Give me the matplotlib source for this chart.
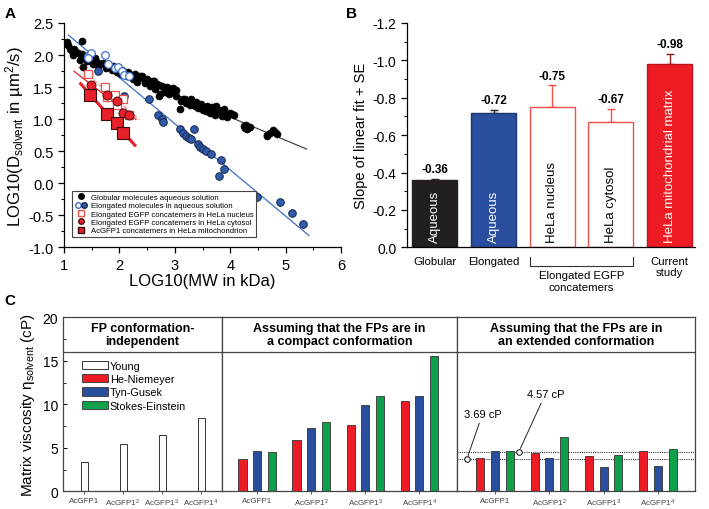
import numpy as np
import matplotlib.pyplot as plt
from matplotlib.legend_handler import HandlerTuple
from matplotlib.lines import Line2D
from matplotlib.patches import Patch
from matplotlib.ticker import MultipleLocator, FormatStrFormatter

plt.rcParams['font.family'] = ['Liberation Sans', 'DejaVu Sans']
plt.rcParams['mathtext.fontset'] = 'custom'
plt.rcParams['mathtext.rm'] = 'Liberation Sans'
plt.rcParams['mathtext.it'] = 'Liberation Sans:italic'
plt.rcParams['axes.linewidth'] = 0.9

# ---- panel A data: log10(MW) vs log10(D) ----
glob_x = [1.03, 1.05, 1.08, 1.11, 1.14, 1.16, 1.18, 1.22, 1.26, 1.28, 1.32, 1.32, 1.35, 1.38,
          1.42, 1.44, 1.50, 1.52, 1.56, 1.59, 1.62, 1.65, 1.71, 1.75, 1.77, 1.83, 1.86, 1.89,
          1.92, 1.95, 1.98, 2.02, 2.04, 2.10, 2.13, 2.16, 2.22, 2.25, 2.28, 2.31, 2.34, 2.37,
          2.40, 2.44, 2.47, 2.49, 2.54, 2.56, 2.58, 2.61, 2.62, 2.64, 2.67, 2.72, 2.72, 2.73,
          2.76, 2.80, 2.82, 2.85, 2.88, 2.90, 2.93, 2.95, 2.97, 3.00, 3.03, 3.03, 3.09, 3.12,
          3.14, 3.18, 3.21, 3.24, 3.27, 3.29, 3.32, 3.36, 3.39, 3.42, 3.44, 3.48, 3.50, 3.53,
          3.56, 3.58, 3.62, 3.64, 3.67, 3.70, 3.72, 3.74, 3.77, 3.79, 3.83, 3.86, 3.88, 3.92,
          3.95, 4.00, 4.03, 4.06, 4.24, 4.27, 4.29, 4.31, 4.35, 4.66, 4.67, 4.72, 4.77, 4.81,
          4.84]
glob_y = [2.17, 2.20, 2.15, 2.09, 2.07, 2.00, 2.09, 2.05, 2.03, 1.93, 2.22, 2.01, 1.81, 1.98,
          1.90, 1.94, 1.91, 1.86, 1.95, 1.89, 1.83, 1.86, 1.87, 1.79, 1.83, 1.81, 1.76, 1.83,
          1.77, 1.73, 1.81, 1.70, 1.76, 1.73, 1.67, 1.74, 1.69, 1.62, 1.70, 1.58, 1.65, 1.68,
          1.67, 1.62, 1.56, 1.63, 1.60, 1.52, 1.57, 1.60, 1.60, 1.47, 1.55, 1.53, 1.36, 1.39,
          1.51, 1.48, 1.42, 1.50, 1.44, 1.39, 1.47, 1.44, 1.48, 1.43, 1.46, 1.36, 1.16, 1.28,
          1.31, 1.32, 1.25, 1.29, 1.22, 1.31, 1.25, 1.20, 1.26, 1.17, 1.22, 1.23, 1.14, 1.18,
          1.12, 1.21, 1.16, 1.10, 1.19, 1.13, 1.07, 1.21, 1.12, 1.15, 1.10, 1.05, 1.16, 1.08,
          1.03, 1.09, 1.08, 1.06, 0.89, 0.86, 0.91, 0.84, 0.87, 0.75, 0.74, 0.78, 0.83, 0.80,
          0.77]
elong_open_x = [1.43, 1.49, 1.43, 1.74, 1.79, 1.92, 1.98, 2.05, 2.08, 2.18]
elong_open_y = [1.99, 2.03, 1.95, 2.00, 1.86, 1.79, 1.81, 1.75, 1.69, 1.67]
elong_x = [1.62, 2.09, 2.54, 2.70, 2.76, 2.78, 3.10, 3.15, 3.20, 3.26, 3.29, 3.35, 3.41, 3.45,
           3.50, 3.56, 3.65, 3.84, 3.89, 3.79, 4.49, 4.90, 5.11, 5.31]
elong_y = [1.75, 1.36, 1.31, 1.07, 1.01, 0.95, 0.85, 0.79, 0.74, 0.70, 0.69, 0.85, 0.62, 0.57,
           0.54, 0.50, 0.46, 0.37, 0.22, 0.12, -0.21, -0.30, -0.47, -0.64]
nuc_x = [1.44, 1.74, 1.78, 1.92, 1.96, 2.06, 2.18]
nuc_y = [1.71, 1.50, 1.34, 1.38, 1.22, 1.32, 1.06]
cyt_x = [1.48, 1.77, 1.96, 2.07, 2.18]
cyt_y = [1.53, 1.37, 1.28, 1.10, 1.07]
mito_x = [1.47, 1.77, 1.95, 2.07]
mito_y = [1.38, 1.08, 0.94, 0.79]

# ---- panel B data: slopes ----
slope_groups = ['Globular', 'Elongated', 'nucleus', 'cytosol', 'Current']
slopes = [-0.36, -0.72, -0.75, -0.67, -0.98]
slope_se = [0.007, 0.016, 0.116, 0.071, 0.054]
bar_text = ['Aqueous', 'Aqueous', 'HeLa nucleus', 'HeLa cytosol', 'HeLa mitochondrial matrix']

# ---- panel C data: matrix viscosity (cP) ----
constructs = ['AcGFP1', 'AcGFP1$^2$', 'AcGFP1$^3$', 'AcGFP1$^4$']
young = [3.33, 5.44, 6.47, 8.39]
compact_hn = [3.71, 5.93, 7.59, 10.38]
compact_tg = [4.63, 7.28, 9.95, 10.99]
compact_se = [4.55, 7.97, 10.99, 15.59]
ext_hn = [3.79, 4.37, 4.06, 4.63]
ext_tg = [4.67, 3.86, 2.79, 2.87]
ext_se = [4.60, 6.20, 4.21, 4.86]
ref_lo, ref_hi = 3.69, 4.57

RED = '#ED1C24'
BLUE = '#2A4E9E'
GREEN = '#0DA04A'
DARK = '#333333'

fig = plt.figure(figsize=(7.09, 5.10), dpi=100)

# =============== A ===============
axA = fig.add_axes([0.0903, 0.513, 0.3907, 0.44])
axA.scatter(glob_x, glob_y, s=26, c='black', edgecolors='black', lw=0.4, zorder=3)
axA.scatter(elong_x, elong_y, s=30, c='#2F5BAA', edgecolors='#14254d', lw=0.7, zorder=3)
axA.scatter(elong_open_x, elong_open_y, s=30, c='white', edgecolors='#3D6FC8', lw=0.9, zorder=3)
axA.scatter(nuc_x, nuc_y, s=36, marker='s', c='white', edgecolors='#F0504A', lw=0.9, zorder=4)
axA.scatter(cyt_x, cyt_y, s=42, c='#E8202A', edgecolors='#4a1010', lw=0.7, zorder=5)
axA.scatter(mito_x, mito_y, s=66, marker='s', c='#E8202A', edgecolors='#3a0c0c', lw=0.8, zorder=5)

# fit lines: slope from panel B, passing through centroid of points
fits = [
    (glob_x, glob_y, slopes[0], (1.1, 5.38), '#333333', 0.8, '-'),
    (elong_x + elong_open_x, elong_y + elong_open_y, slopes[1], (1.08, 5.42), '#3D6FC8', 0.9, '-'),
    (nuc_x, nuc_y, slopes[2], (1.26, 2.36), '#F58A84', 0.9, '--'),
    (cyt_x, cyt_y, slopes[3], (1.18, 2.3), '#E8202A', 0.9, '-'),
    (mito_x, mito_y, slopes[4], (1.3, 2.28), '#E8202A', 2.2, '-'),
]
for fx, fy, s, (x0, x1), col, lw, ls in fits:
    b = np.mean(fy) - s * np.mean(fx)
    xx = np.array([x0, x1])
    axA.plot(xx, s * xx + b, color=col, lw=lw, ls=ls, zorder=2)

axA.set_xlim(1, 6)
axA.set_ylim(-1.0, 2.5)
axA.xaxis.set_major_locator(MultipleLocator(1))
axA.xaxis.set_minor_locator(MultipleLocator(0.5))
axA.yaxis.set_major_locator(MultipleLocator(0.5))
axA.yaxis.set_minor_locator(MultipleLocator(0.25))
axA.yaxis.set_major_formatter(FormatStrFormatter('%.1f'))
axA.spines['top'].set_visible(False)
axA.spines['right'].set_visible(False)
axA.tick_params(which='major', length=4, width=0.9, labelsize=10.5)
axA.tick_params(which='minor', length=2.5, width=0.8)
axA.set_xlabel('LOG10(MW in kDa)', fontsize=12, labelpad=1)
axA.set_ylabel('LOG10(D$_{\\mathrm{solvent}}$ in µm$^2$/s)', fontsize=12, labelpad=2)

hA = [
    Line2D([], [], ls='', marker='o', ms=4, mfc='black', mec='black'),
    (Line2D([], [], ls='', marker='o', ms=4, mfc='white', mec='#3D6FC8'),
     Line2D([], [], ls='', marker='o', ms=4, mfc='#2F5BAA', mec='#14254d')),
    Line2D([], [], ls='', marker='s', ms=4, mfc='white', mec='#F0504A'),
    Line2D([], [], ls='', marker='o', ms=4, mfc='#E8202A', mec='#4a1010'),
    Line2D([], [], ls='', marker='s', ms=4.5, mfc='#E8202A', mec='#3a0c0c'),
]
lA = ['Globular molecules aqueous solution',
      'Elongated molecules in aqueous solution',
      'Elongated EGFP concatemers in HeLa nucleus',
      'Elongated EGFP concatemers in HeLa cytosol',
      'AcGFP1 concatemers in HeLa mitochondrion']
legA = axA.legend(hA, lA, loc='lower left', bbox_to_anchor=(0.014, 0.028), fontsize=5.6,
                  handler_map={tuple: HandlerTuple(ndivide=None, pad=0)},
                  fancybox=False, edgecolor='#444444', framealpha=1, handlelength=1.6,
                  handletextpad=0.5, labelspacing=0.12, borderpad=0.35)
legA.get_frame().set_linewidth(0.8)

# =============== B ===============
axB = fig.add_axes([0.5736, 0.513, 0.4064, 0.44])
pos = np.arange(len(slopes))
faces = ['#231F20', BLUE, 'white', 'white', RED]
edges = ['#231F20', '#1d3570', '#F0504A', '#F0504A', '#c0141b']
err_cols = ['#231F20', '#231F20', '#F0504A', '#F0504A', '#8a1a1a']
txt_cols = ['white', 'white', 'black', 'black', 'white']
axB.bar(pos, slopes, width=0.77, color=faces, edgecolor=edges, lw=1.0, zorder=2)
for i in range(len(slopes)):
    # one-sided error bar pointing away from zero
    axB.errorbar(pos[i], slopes[i], yerr=[[slope_se[i]], [0]], fmt='none',
                 ecolor=err_cols[i], elinewidth=1.0, capsize=3, capthick=1.0, zorder=1)
    axB.text(pos[i], slopes[i] - slope_se[i] - 0.02, f'{slopes[i]:.2f}', ha='center',
             va='bottom', fontsize=8.5, fontweight='bold')
    axB.text(pos[i], -0.03, bar_text[i], rotation=90, ha='center', va='bottom',
             fontsize=9.5, color=txt_cols[i], zorder=3)
axB.set_xlim(-0.48, 4.43)
axB.set_ylim(0, -1.2)
axB.yaxis.set_major_locator(MultipleLocator(0.2))
axB.yaxis.set_minor_locator(MultipleLocator(0.1))
axB.yaxis.set_major_formatter(FormatStrFormatter('%.1f'))
axB.spines['top'].set_visible(False)
axB.spines['right'].set_visible(False)
axB.set_xticks([0, 1, 4])
axB.set_xticklabels(['Globular', 'Elongated', 'Current\nstudy'], fontsize=8.2)
axB.tick_params(axis='x', length=0, pad=6)
axB.tick_params(axis='y', which='major', length=4, width=0.9, labelsize=10)
axB.tick_params(axis='y', which='minor', length=2.5, width=0.8)
axB.set_ylabel('Slope of linear fit + SE', fontsize=10.5, labelpad=3)
tr = axB.get_xaxis_transform()
bx0, bx1 = 2 - 0.385, 3 + 0.385
axB.plot([bx0, bx0, bx1, bx1], [-0.043, -0.082, -0.082, -0.043], color='#333333', lw=0.8,
         transform=tr, clip_on=False)
axB.text(2.5, -0.10, 'Elongated EGFP\nconcatemers', transform=tr, ha='center', va='top',
         fontsize=8.2, linespacing=1.3)

# =============== C ===============
bottom, height = 0.0347, 0.3412
axC1 = fig.add_axes([0.0889, bottom, 0.2243, height])
axC2 = fig.add_axes([0.3131, bottom, 0.3315, height])
axC3 = fig.add_axes([0.6446, bottom, 0.3357, height])
grp = np.arange(len(constructs))
axC1.bar(grp, young, width=0.18, color='white', edgecolor=DARK, lw=0.7)
off, w = 0.27, 0.15
for ax, vals in [(axC2, (compact_hn, compact_tg, compact_se)),
                 (axC3, (ext_hn, ext_tg, ext_se))]:
    for k, (v, c) in enumerate(zip(vals, [RED, BLUE, GREEN])):
        ax.bar(grp + (k - 1) * off, v, width=w, color=c, edgecolor=DARK, lw=0.6)

axC1.set_xlim(-0.54, 3.54)
axC2.set_xlim(-0.65, 3.70)
axC3.set_xlim(-0.70, 3.68)
heads = ['FP conformation-\nindependent',
         'Assuming that the FPs are in\na compact conformation',
         'Assuming that the FPs are in\nan extended conformation']
for ax, h in zip([axC1, axC2, axC3], heads):
    ax.set_ylim(0, 20)
    ax.axhline(16, color='#444444', lw=0.9)
    ax.text(np.mean(ax.get_xlim()), 18, h, ha='center', va='center', fontsize=9,
            fontweight='bold', linespacing=1.15)
    ax.set_xticks(grp)
    ax.set_xticklabels(constructs, fontsize=5.8, color='#444444')
    ax.tick_params(axis='x', length=2, width=0.6, pad=2, colors='#444444', labelcolor='#444444')
    for sp in ax.spines.values():
        sp.set_color('#444444')

axC1.yaxis.set_major_locator(MultipleLocator(5))
axC1.yaxis.set_minor_locator(MultipleLocator(2.5))
axC1.tick_params(axis='y', which='major', direction='in', length=3, width=0.7, labelsize=10)
axC1.tick_params(axis='y', which='minor', direction='in', length=2, width=0.6)
axC1.set_ylabel('Matrix viscosity η$_{\\mathrm{solvent}}$ (cP)', fontsize=11, labelpad=4)
for ax in (axC2, axC3):
    ax.tick_params(axis='y', left=False, labelleft=False, which='both')

hC = [Patch(facecolor='white', edgecolor=DARK, lw=0.7),
      Patch(facecolor=RED, edgecolor=DARK, lw=0.6),
      Patch(facecolor=BLUE, edgecolor=DARK, lw=0.6),
      Patch(facecolor=GREEN, edgecolor=DARK, lw=0.6)]
axC1.legend(hC, ['Young', 'He-Niemeyer', 'Tyn-Gusek', 'Stokes-Einstein'], loc='upper left',
            bbox_to_anchor=(0.09, 0.775), frameon=False, fontsize=7.8, handlelength=2.4,
            handleheight=0.8, handletextpad=0.2, labelspacing=0.3, borderaxespad=0)

# reference levels in extended panel
x3 = axC3.get_xlim()
axC3.plot(x3, [ref_hi, ref_hi], ls=(0, (1, 1)), color='#333333', lw=0.8, zorder=0)
axC3.plot(x3, [ref_lo, ref_lo], ls=(0, (1, 1)), color='#333333', lw=0.8, zorder=0)
axC3.set_xlim(x3)
axC3.plot([-0.52], [ref_lo], marker='o', ms=4, mfc='white', mec='#222222', mew=0.8, zorder=5)
axC3.plot([0.44], [ref_hi], marker='o', ms=4, mfc='white', mec='#222222', mew=0.8, zorder=5)
axC3.annotate(f'{ref_lo:.2f} cP', xy=(-0.52, ref_lo), xytext=(-0.58, 8.3), fontsize=8,
              ha='left', va='bottom',
              arrowprops=dict(arrowstyle='-', color='#222222', lw=0.7,
                              shrinkA=1, shrinkB=2.5))
axC3.annotate(f'{ref_hi:.2f} cP', xy=(0.44, ref_hi), xytext=(0.58, 10.6), fontsize=8,
              ha='left', va='bottom',
              arrowprops=dict(arrowstyle='-', color='#222222', lw=0.7,
                              shrinkA=1, shrinkB=2.5))

fig.text(0.006, 0.972, 'A', fontsize=11, fontweight='bold', va='center')
fig.text(0.488, 0.972, 'B', fontsize=11, fontweight='bold', va='center')
fig.text(0.006, 0.41, 'C', fontsize=11, fontweight='bold', va='center')

fig.savefig('out.png', dpi=100)
